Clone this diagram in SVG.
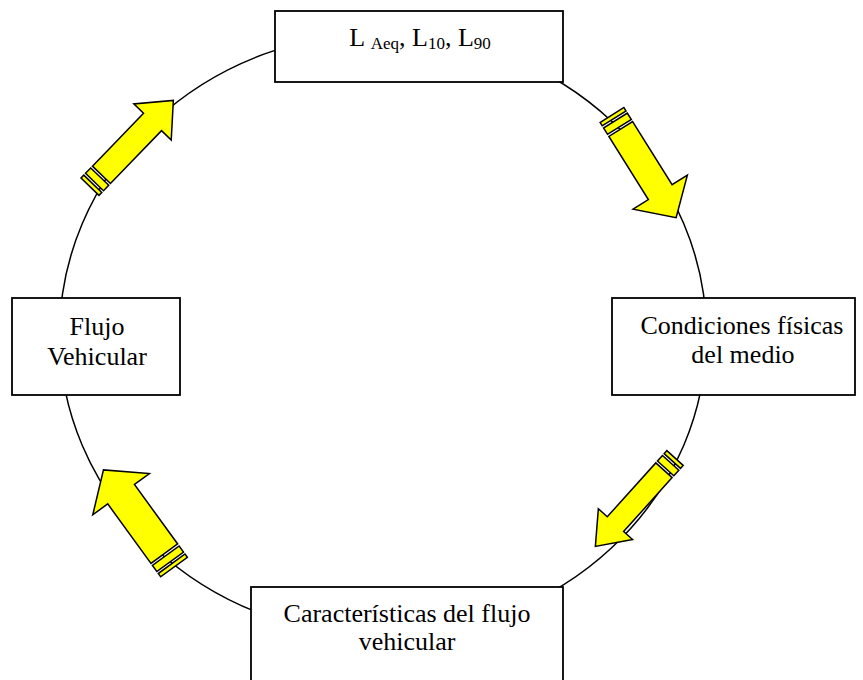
<svg xmlns="http://www.w3.org/2000/svg" width="863" height="680" viewBox="0 0 863 680">
<style>
.box{fill:#fff;stroke:#000;stroke-width:1.8}
.t{font-family:"Liberation Serif","Times New Roman",serif;font-size:26px;fill:#000;text-anchor:middle}
.sub{font-size:17px}
.arr{fill:#ffff00;stroke:#000;stroke-width:1.5;stroke-linejoin:miter}
.ring{fill:none;stroke:#000;stroke-width:1.5}
</style>
<rect width="863" height="680" fill="#fff"/>
<g id="connectors">
<ellipse class="ring" cx="383" cy="334.5" rx="323.4" ry="301.5"/>
<g id="arrow1" transform="translate(90,186.7) rotate(-46)">
<rect class="arr" x="0" y="-12.5" width="4" height="25"/>
<rect class="arr" x="6.5" y="-12.5" width="7.5" height="25"/>
<polygon class="arr" points="16.5,-12.5 90,-12.5 90,-26 120,0 90,26 90,12.5 16.5,12.5"/>
</g>
<g id="arrow2" transform="translate(612,115) rotate(58)">
<rect class="arr" x="0" y="-14" width="4" height="28"/>
<rect class="arr" x="6.5" y="-14" width="7.5" height="28"/>
<polygon class="arr" points="16.5,-14 91,-14 91,-32 121,0 91,32 91,14 16.5,14"/>
</g>
<g id="arrow3" transform="translate(675,458) rotate(132)">
<rect class="arr" x="0" y="-11" width="4" height="22"/>
<rect class="arr" x="6.5" y="-11" width="7.5" height="22"/>
<polygon class="arr" points="16.5,-11 89,-11 89,-23 119,0 89,23 89,11 16.5,11"/>
</g>
<g id="arrow4" transform="translate(174,567) rotate(234)">
<rect class="arr" x="0" y="-16.5" width="4" height="33"/>
<rect class="arr" x="6.5" y="-16.5" width="7.5" height="33"/>
<polygon class="arr" points="16.5,-16.5 90,-16.5 90,-35 120,0 90,35 90,16.5 16.5,16.5"/>
</g>
</g>
<g id="node-top">
<rect class="box" x="275" y="11" width="288" height="71"/>
<text class="t" x="420" y="46">L <tspan class="sub" dy="3">Aeq</tspan><tspan dy="-3">, L</tspan><tspan class="sub" dy="3">10</tspan><tspan dy="-3">, L</tspan><tspan class="sub" dy="3">90</tspan></text>
</g>
<g id="node-left">
<rect class="box" x="12" y="298" width="168" height="97"/>
<text class="t" x="97" y="335">Flujo</text>
<text class="t" x="97" y="365">Vehicular</text>
</g>
<g id="node-right">
<rect class="box" x="612" y="298" width="243" height="97"/>
<text class="t" x="742" y="334">Condiciones físicas</text>
<text class="t" x="743" y="363">del medio</text>
</g>
<g id="node-bottom">
<rect class="box" x="251" y="587" width="312" height="100"/>
<text class="t" x="407" y="622">Características del flujo</text>
<text class="t" x="407" y="650">vehicular</text>
</g>
</svg>
